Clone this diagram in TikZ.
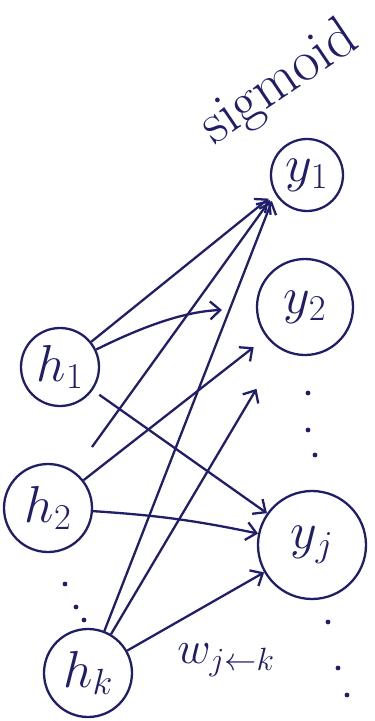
\RequirePackage{fix-cm}
\documentclass[tikz,border=0pt]{standalone}
\usetikzlibrary{arrows.meta}
\definecolor{ink}{RGB}{33,30,105}

\begin{document}
\begin{tikzpicture}[x=1pt, y=-1pt, ->, >={Straight Barb[length=10pt,width=18pt]}, line width=2.3pt, draw=ink, text=ink,
    unit/.style={circle, draw, inner sep=0pt, font=\fontsize{52}{58}\selectfont}]
      \useasboundingbox (0,0) rectangle (375,721);
      % hidden layer
      \node[unit, minimum size=78pt] (h1) at (60,367) {$h_1$};
      \node[unit, minimum size=88pt] (h2) at (48,508) {$h_2$};
      \node[unit, minimum size=88pt] (hk) at (88,673) {$h_k$};
      % output layer
      \node[unit, minimum size=72pt] (y1) at (307,175) {$y_1$};
      \node[unit, minimum size=96pt] (y2) at (305,307) {$y_2$};
      \node[unit, minimum size=108pt] (yj) at (312,545) {$y_j$};

      \node[rotate=34, font=\fontsize{58}{62}\selectfont] (sig) at (280,84) {sigmoid};
      \node[font=\fontsize{46}{50}\selectfont] (w) at (226,660) {$w_{j\leftarrow k}$};

      \path (h1) edge[shorten >=8pt] (y1.210)
      (h1) edge[bend left=12, shorten >=34pt] (y2)
      (h1) edge[shorten <=8pt] (yj)
      (h2) edge[shorten <=30pt, shorten >=8pt] (y1.210)
      (h2) edge[shorten >=16pt] (y2)
      (h2) edge[bend left=4] (yj)
      (hk) edge[shorten >=8pt] (y1.210)
      (hk) edge[shorten >=46pt] (y2)
      (hk) edge (yj);

      \foreach \p in {(65,584),(76,607),(84,620),(308,393),(308,430),(315,455),(328,622),(338,668),(347,695)}
        \fill[-, ink] \p circle (2.4pt);
    \end{tikzpicture}
\end{document}
